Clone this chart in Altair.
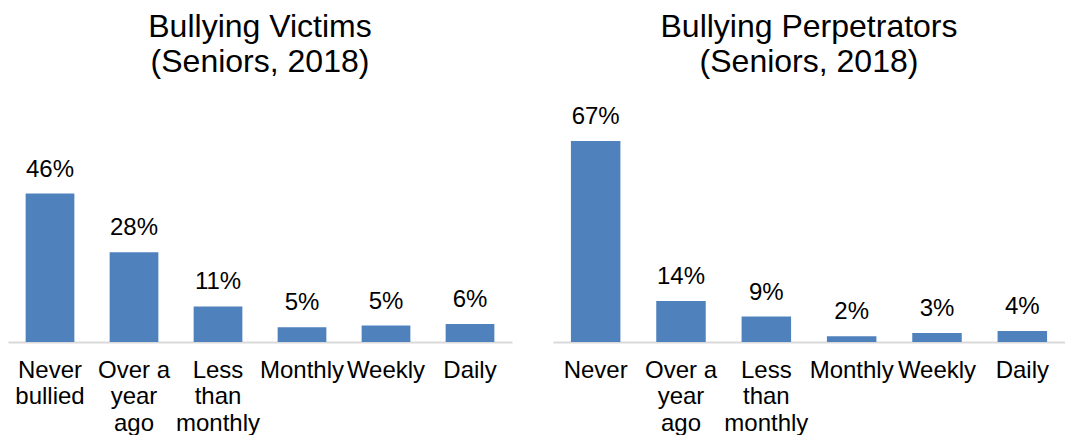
import altair as alt
import pandas as pd

FONT = "Liberation Sans"

# Victims panel
victim_cats = ["Never|bullied", "Over a|year|ago", "Less|than|monthly", "Monthly", "Weekly", "Daily"]
victim_vals = [0.46, 0.278, 0.11, 0.046, 0.051, 0.056]

# Perpetrators panel
perp_cats = ["Never", "Over a|year|ago", "Less|than|monthly", "Monthly", "Weekly", "Daily"]
perp_vals = [0.67, 0.137, 0.085, 0.019, 0.03, 0.037]

BLUE = "#4F81BD"


def panel(cats, vals, title, ymax, width):
    df = pd.DataFrame({"cat": cats, "val": vals})
    x = alt.X(
        "cat:N",
        sort=None,
        title=None,
        scale=alt.Scale(paddingInner=0.42, paddingOuter=0.21),
        axis=alt.Axis(
            labelExpr="split(datum.label, '|')",
            labelAngle=0,
            labelFontSize=24,
            labelFont=FONT,
            labelColor="#000000",
            labelLineHeight=26.5,
            labelPadding=16,
            labelBaseline="top",
            ticks=False,
            grid=False,
            domainColor="#D9D9D9",
            domainWidth=2,
        ),
    )
    y = alt.Y("val:Q", axis=None, scale=alt.Scale(domain=[0, ymax], nice=False, zero=True))
    base = alt.Chart(df)
    bars = base.mark_bar(color=BLUE).encode(x=x, y=y)
    labels = base.mark_text(
        fontSize=24, font=FONT, color="#000000", baseline="alphabetic", dy=-17
    ).encode(x=x, y=y, text=alt.Text("val:Q", format=".0%"))
    return (bars + labels).properties(
        width=width,
        height=240,
        title=alt.Title(
            title,
            fontSize=32,
            font=FONT,
            fontWeight="normal",
            color="#000000",
            anchor="middle",
            lineHeight=35,
            offset=23,
        ),
    )


left = panel(victim_cats, victim_vals, ["Bullying Victims", "(Seniors, 2018)"], 0.7435, 504)
right = panel(perp_cats, perp_vals, ["Bullying Perpetrators", "(Seniors, 2018)"], 0.80, 512)

chart = (
    alt.hconcat(left, right, spacing=41)
    .properties(padding={"left": 0, "right": 0, "top": 3, "bottom": 0}, background="#FFFFFF")
    .configure_view(stroke=None)
)

chart.save("out.html", embed_options={"renderer": "svg", "actions": False})
